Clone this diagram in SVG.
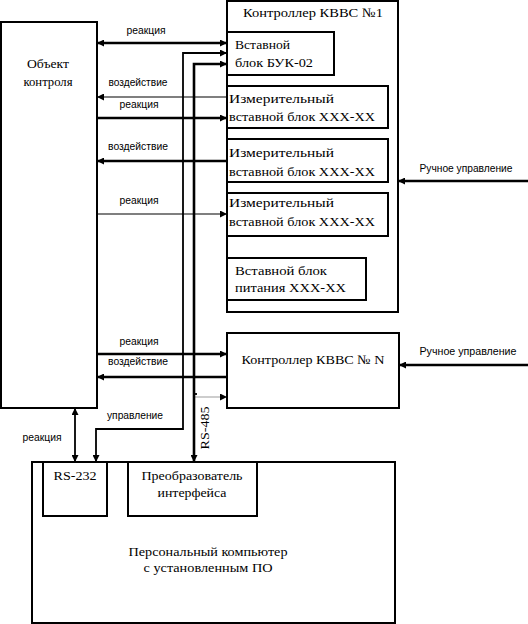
<svg xmlns="http://www.w3.org/2000/svg" width="528" height="624" viewBox="0 0 528 624">
<defs>
<marker id="ah" markerUnits="userSpaceOnUse" markerWidth="8" markerHeight="7" refX="7" refY="3.5" orient="auto-start-reverse">
<path d="M0,0 L7,3.5 L0,7 z" fill="#000"/>
</marker>
<style>
.box{fill:#fff;stroke:#000;stroke-width:2}
.t{font-family:"Liberation Serif","Times New Roman",serif;font-size:13px;fill:#000}
.l{font-family:"Liberation Sans",Arial,sans-serif;font-size:10px;fill:#000}
.thin{fill:none;stroke:#000;stroke-width:1.2}
.mid{fill:none;stroke:#000;stroke-width:1.8}
.thick{fill:none;stroke:#000;stroke-width:2.6}
.faint{fill:none;stroke:#000;stroke-width:0.4}
</style>
</defs>
<rect width="528" height="624" fill="#fff"/>

<g id="object">
<rect class="box" x="1" y="22" width="96" height="386"/>
<text class="t" x="48" y="68" text-anchor="middle" textLength="42" lengthAdjust="spacingAndGlyphs">Объект</text>
<text class="t" x="48" y="86" text-anchor="middle" textLength="49" lengthAdjust="spacingAndGlyphs">контроля</text>
</g>

<g id="controller1">
<rect class="box" x="227" y="1" width="171" height="311"/>
<text class="t" x="313" y="17" text-anchor="middle" textLength="140" lengthAdjust="spacingAndGlyphs">Контроллер КВВС №1</text>
</g>

<g id="buk">
<rect class="box" x="227" y="32" width="107" height="43"/>
<text class="t" x="235" y="49" textLength="55" lengthAdjust="spacingAndGlyphs">Вставной</text>
<text class="t" x="235" y="67" textLength="78" lengthAdjust="spacingAndGlyphs">блок БУК-02</text>
</g>

<g id="meas1">
<rect class="box" x="227" y="86" width="161" height="42"/>
<text class="t" x="229" y="103" textLength="105" lengthAdjust="spacingAndGlyphs">Измерительный</text>
<text class="t" x="229" y="121" textLength="146" lengthAdjust="spacingAndGlyphs">вставной блок ХХХ-ХХ</text>
</g>

<g id="meas2">
<rect class="box" x="227" y="139" width="161" height="43"/>
<text class="t" x="229" y="157" textLength="105" lengthAdjust="spacingAndGlyphs">Измерительный</text>
<text class="t" x="229" y="176" textLength="146" lengthAdjust="spacingAndGlyphs">вставной блок ХХХ-ХХ</text>
</g>

<g id="meas3">
<rect class="box" x="227" y="193" width="161" height="43"/>
<text class="t" x="229" y="207" textLength="105" lengthAdjust="spacingAndGlyphs">Измерительный</text>
<text class="t" x="229" y="226" textLength="146" lengthAdjust="spacingAndGlyphs">вставной блок ХХХ-ХХ</text>
</g>

<g id="power">
<rect class="box" x="227" y="258" width="139" height="42"/>
<text class="t" x="235" y="275" textLength="92" lengthAdjust="spacingAndGlyphs">Вставной блок</text>
<text class="t" x="235" y="292" textLength="111" lengthAdjust="spacingAndGlyphs">питания ХХХ-ХХ</text>
</g>

<g id="controllerN">
<rect class="box" x="227" y="333" width="172" height="75"/>
<text class="t" x="313" y="364" text-anchor="middle" textLength="143" lengthAdjust="spacingAndGlyphs">Контроллер КВВС № N</text>
</g>

<g id="pc">
<rect class="box" x="32" y="462" width="363" height="161"/>
<text class="t" x="208" y="556" text-anchor="middle" textLength="159" lengthAdjust="spacingAndGlyphs">Персональный компьютер</text>
<text class="t" x="208" y="572" text-anchor="middle" textLength="129" lengthAdjust="spacingAndGlyphs">с установленным ПО</text>
</g>

<g id="rs232">
<rect class="box" x="43" y="462" width="64" height="54"/>
<text class="t" x="75" y="480" text-anchor="middle" textLength="43" lengthAdjust="spacingAndGlyphs">RS-232</text>
</g>

<g id="converter">
<rect class="box" x="128" y="462" width="129" height="54"/>
<text class="t" x="192" y="480" text-anchor="middle" textLength="101" lengthAdjust="spacingAndGlyphs">Преобразователь</text>
<text class="t" x="192" y="497" text-anchor="middle" textLength="69" lengthAdjust="spacingAndGlyphs">интерфейса</text>
</g>

<g id="connectors">
<path class="thick" d="M97,43 H227" marker-start="url(#ah)" marker-end="url(#ah)"/>
<path class="mid" d="M227,53 H183 V429 H96 V462" marker-start="url(#ah)" marker-end="url(#ah)"/>
<path class="thick" d="M227,64 H194 V462" marker-start="url(#ah)" marker-end="url(#ah)"/>
<path class="faint" d="M194,397 H227" marker-end="url(#ah)"/>
<path class="mid" d="M194,394 H197"/>
<path class="thin" d="M227,97 H97" marker-end="url(#ah)"/>
<path class="thick" d="M97,118 H227" marker-end="url(#ah)"/>
<path class="thick" d="M227,161 H97" marker-end="url(#ah)"/>
<path class="thin" d="M97,214 H227" marker-end="url(#ah)"/>
<path class="thick" d="M97,354 H227" marker-end="url(#ah)"/>
<path class="thick" d="M227,377 H97" marker-end="url(#ah)"/>
<path class="thick" d="M528,181 H398" marker-end="url(#ah)"/>
<path class="thick" d="M528,365 H399" marker-end="url(#ah)"/>
<path class="mid" d="M75,408 V462" marker-start="url(#ah)" marker-end="url(#ah)"/>

<text class="l" x="146" y="34" text-anchor="middle" textLength="39" lengthAdjust="spacingAndGlyphs">реакция</text>
<text class="l" x="138" y="86" text-anchor="middle" textLength="59" lengthAdjust="spacingAndGlyphs">воздействие</text>
<text class="l" x="139" y="108" text-anchor="middle" textLength="39" lengthAdjust="spacingAndGlyphs">реакция</text>
<text class="l" x="138" y="150" text-anchor="middle" textLength="60" lengthAdjust="spacingAndGlyphs">воздействие</text>
<text class="l" x="139" y="204" text-anchor="middle" textLength="39" lengthAdjust="spacingAndGlyphs">реакция</text>
<text class="l" x="139" y="345" text-anchor="middle" textLength="39" lengthAdjust="spacingAndGlyphs">реакция</text>
<text class="l" x="138" y="365" text-anchor="middle" textLength="60" lengthAdjust="spacingAndGlyphs">воздействие</text>
<text class="l" x="135" y="419" text-anchor="middle" textLength="56" lengthAdjust="spacingAndGlyphs">управление</text>
<text class="l" x="42" y="441" text-anchor="middle" textLength="39" lengthAdjust="spacingAndGlyphs">реакция</text>
<text class="l" x="466" y="172" text-anchor="middle" textLength="93" lengthAdjust="spacingAndGlyphs">Ручное управление</text>
<text class="l" x="468" y="355" text-anchor="middle" textLength="97" lengthAdjust="spacingAndGlyphs">Ручное управление</text>
<text class="t" transform="translate(209,428) rotate(-90)" text-anchor="middle" textLength="43" lengthAdjust="spacingAndGlyphs">RS-485</text>
</g>
</svg>
